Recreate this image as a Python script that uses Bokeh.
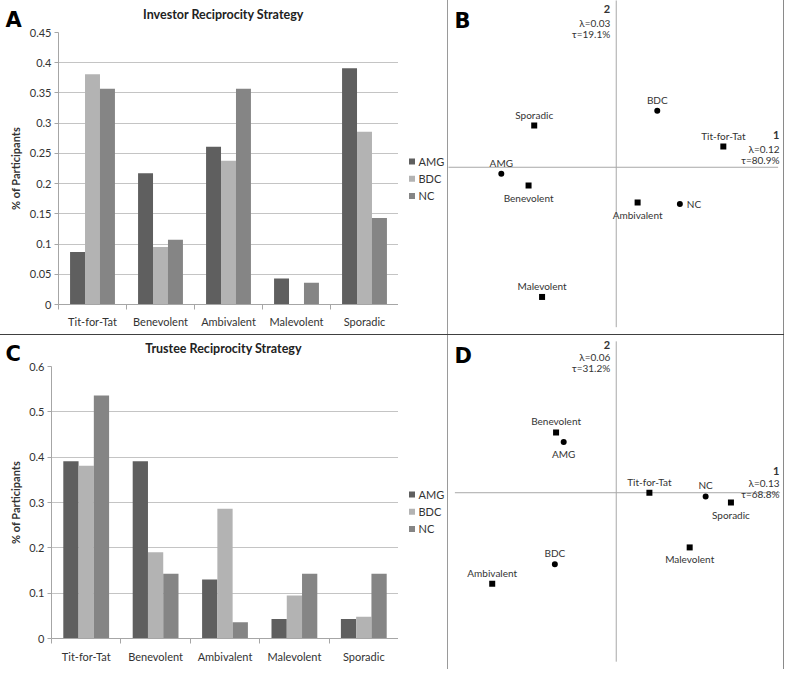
import math
from bokeh.plotting import figure
from bokeh.layouts import column, row
from bokeh.models import Range1d, FixedTicker, Div
from bokeh.core.properties import value
from bokeh.embed import file_html
from bokeh.resources import INLINE

# ---------------- data ----------------
categories = ["Tit-for-Tat", "Benevolent", "Ambivalent", "Malevolent", "Sporadic"]
groups = ["AMG", "BDC", "NC"]
group_colors = ["#5f5f5f", "#b3b3b3", "#858585"]

investor_amg = [0.087, 0.217, 0.261, 0.043, 0.391]
investor_bdc = [0.381, 0.095, 0.238, 0.0, 0.286]
investor_nc = [0.357, 0.107, 0.357, 0.036, 0.143]
investor_ticks = [0, 0.05, 0.1, 0.15, 0.2, 0.25, 0.3, 0.35, 0.4, 0.45]
investor_tick_labels = ["0", "0.05", "0.1", "0.15", "0.2", "0.25", "0.3", "0.35", "0.4", "0.45"]

trustee_amg = [0.391, 0.391, 0.130, 0.043, 0.043]
trustee_bdc = [0.381, 0.190, 0.286, 0.095, 0.048]
trustee_nc = [0.536, 0.143, 0.036, 0.143, 0.143]
trustee_ticks = [0, 0.1, 0.2, 0.3, 0.4, 0.5, 0.6]
trustee_tick_labels = ["0", "0.1", "0.2", "0.3", "0.4", "0.5", "0.6"]

y_label = "% of Participants"

# correspondence analysis maps (dimension 1, dimension 2)
inv_strat_dim1 = [0.436, -0.357, 0.087, -0.302, -0.334]
inv_strat_dim2 = [0.085, -0.075, -0.145, -0.532, 0.171]
inv_group_dim1 = [-0.468, 0.167, 0.259]
inv_group_dim2 = [-0.027, 0.232, -0.151]
inv_dim1_text = ["1", "\u03bb=0.12", "\u03c4=80.9%"]
inv_dim2_text = ["2", "\u03bb=0.03", "\u03c4=19.1%"]

tru_strat_dim1 = [0.135, -0.245, -0.505, 0.299, 0.467]
tru_strat_dim2 = [0.0, 0.247, -0.373, -0.224, -0.040]
tru_group_dim1 = [-0.214, -0.250, 0.364]
tru_group_dim2 = [0.208, -0.293, -0.015]
tru_dim1_text = ["1", "\u03bb=0.13", "\u03c4=68.8%"]
tru_dim2_text = ["2", "\u03bb=0.06", "\u03c4=31.2%"]

# label placement (style)
inv_strat_pos = ["above", "below", "below", "above", "above"]
inv_group_pos = ["above", "above", "right"]
tru_strat_pos = ["above", "above", "above", "below", "below"]
tru_group_pos = ["below", "above", "above"]

FONT = "Lato"
TXT = "#333333"
LW, RW, TH, BH = 447, 335, 334, 334
SW = 26      # left strip (panel letter + y-axis title)
HH = 24      # header strip (chart title) above bar charts
BARW = 372   # bar-chart figure width; the remainder holds the legend
LEGW = LW - SW - BARW


def blank(w, h, xr, yr):
    f = figure(width=w, height=h, x_range=Range1d(*xr), y_range=Range1d(*yr),
               output_backend="svg", toolbar_location=None, min_border=0,
               x_axis_type=None, y_axis_type=None, title=None, frame_align=False)
    f.grid.visible = False
    f.outline_line_color = None
    return f


def strip(letter, letter_y, label_y):
    s = blank(SW, TH, (0, SW), (TH, 0))
    s.text(x=[5], y=[letter_y], text=[letter], text_align="left", text_baseline="middle",
           text_font=value("DejaVu Sans"), text_font_style="bold", text_font_size="21px",
           text_color="#000000")
    s.text(x=[14.5], y=[label_y], text=[y_label], angle=math.pi / 2, text_align="center",
           text_baseline="middle", text_font=value(FONT), text_font_style="bold",
           text_font_size="11px", text_color=TXT)
    return s


def header(title, title_x, title_y):
    h = blank(LW - SW, HH, (0, LW - SW), (HH, 0))
    h.text(x=[title_x], y=[title_y], text=[title], text_align="center", text_baseline="middle",
           text_font=value(FONT), text_font_style="bold", text_font_size="12.5px",
           text_color="#222222")
    return h


def bar_panel(series, ymax, ticks, tick_labels, fl, ft, fb, xstand):
    p = figure(width=BARW, height=TH - HH, x_range=Range1d(0, len(categories)), y_range=Range1d(0, ymax),
               output_backend="svg", toolbar_location=None, title=None, frame_align=False,
               min_border_left=fl, min_border_right=0, min_border_top=ft, min_border_bottom=fb)
    p.outline_line_color = None
    p.xgrid.visible = False
    p.ygrid.ticker = FixedTicker(ticks=ticks)
    p.ygrid.grid_line_color = "#c4c4c4"
    bw = 0.22
    for j, (vals, col) in enumerate(zip(series, group_colors)):
        xs = [i + 0.5 + (j - 1) * bw for i in range(len(categories))]
        p.vbar(x=xs, top=vals, width=bw, fill_color=col, line_color=None)
    ya = p.yaxis[0]
    ya.ticker = FixedTicker(ticks=ticks, minor_ticks=[])
    ya.major_label_overrides = {t: l for t, l in zip(ticks, tick_labels)}
    ya.axis_line_color = "#a6a6a6"
    ya.major_tick_line_color = "#a6a6a6"
    ya.major_tick_out = 4
    ya.major_tick_in = 0
    ya.major_label_standoff = 3
    ya.major_label_text_font = FONT
    ya.major_label_text_font_size = "11px"
    ya.major_label_text_color = TXT
    xa = p.xaxis[0]
    xa.ticker = FixedTicker(ticks=[i + 0.5 for i in range(len(categories))],
                            minor_ticks=list(range(len(categories) + 1)))
    xa.major_label_overrides = {i + 0.5: c for i, c in enumerate(categories)}
    xa.axis_line_color = "#a6a6a6"
    xa.major_tick_line_color = None
    xa.major_tick_out = 0
    xa.major_tick_in = 0
    xa.minor_tick_line_color = "#a6a6a6"
    xa.minor_tick_out = 5
    xa.minor_tick_in = 0
    xa.major_label_standoff = xstand
    xa.major_label_text_font = FONT
    xa.major_label_text_font_size = "11px"
    xa.major_label_text_color = TXT
    return p


def legend_panel(first_row_y, pitch):
    # small legend figure: square swatches + group names, one row per group
    q = blank(LEGW, TH - HH, (0, LEGW), (TH - HH, 0))
    ys = [first_row_y + k * pitch for k in range(len(groups))]
    q.scatter(x=[13.5] * len(groups), y=ys, marker="square", size=6,
              fill_color=group_colors, line_color=None)
    q.text(x=[20] * len(groups), y=ys, text=groups, text_align="left", text_baseline="middle",
           text_font=value(FONT), text_font_size="11px", text_color=TXT)
    return q


def ca_panel(letter, H, xr, yr, hline, vline, s_x, s_y, s_pos, g_x, g_y, g_pos, d1_text, d1_offs, d2_text, d2_offs):
    p = blank(RW, H, xr, yr)
    p.segment(x0=[hline[0], 0], y0=[0, vline[0]], x1=[hline[1], 0], y1=[0, vline[1]],
              line_color="#a8a8a8", line_width=1)
    p.scatter(x=s_x, y=s_y, marker="square", size=6, fill_color="black", line_color=None)
    p.scatter(x=g_x, y=g_y, marker="circle", size=6, fill_color="black", line_color=None)

    def labels(xs, ys, names, pos):
        for x, y, n, ps in zip(xs, ys, names, pos):
            if ps == "above":
                kw = dict(x_offset=0, y_offset=-11, text_align="center")
            elif ps == "below":
                kw = dict(x_offset=0, y_offset=12, text_align="center")
            else:
                kw = dict(x_offset=7, y_offset=0, text_align="left")
            p.text(x=[x], y=[y], text=[n], text_baseline="middle", text_font=value(FONT),
                   text_font_size="10px", text_color=TXT, **kw)

    labels(s_x, s_y, categories, s_pos)
    labels(g_x, g_y, groups, g_pos)
    for k, (t, off) in enumerate(zip(d2_text, d2_offs)):
        p.text(x=[0], y=[yr[1]], text=[t], x_offset=-6, y_offset=off, text_align="right",
               text_baseline="middle", text_font=value(FONT),
               text_font_style="bold" if k == 0 else "normal",
               text_font_size="11px" if k == 0 else "10px", text_color=TXT)
    for k, (t, off) in enumerate(zip(d1_text, d1_offs)):
        p.text(x=[xr[1]], y=[0], text=[t], x_offset=-4, y_offset=off, text_align="right",
               text_baseline="middle", text_font=value(FONT),
               text_font_style="bold" if k == 0 else "normal",
               text_font_size="11px" if k == 0 else "10px", text_color=TXT)
    p.text(x=[xr[0]], y=[yr[1]], text=[letter], x_offset=6, y_offset=20.5, text_align="left",
           text_baseline="middle", text_font=value("DejaVu Sans"), text_font_style="bold",
           text_font_size="21px", text_color="#000000")
    return p


def bar_block(letter, title, title_y, letter_y, series, ymax, ticks, tick_labels, fl, ft, fb, xstand, leg_y0):
    frame_mid = HH + ft + (TH - HH - ft - fb) / 2
    s = strip(letter, letter_y, frame_mid)
    h = header(title, 223 - SW, title_y)
    p = bar_panel(series, ymax, ticks, tick_labels, fl, ft, fb, xstand)
    q = legend_panel(leg_y0, 17.2)
    return row(s, column(h, row(p, q)))


blockA = bar_block("A", "Investor Reciprocity Strategy", 13.7, 19.5,
                   [investor_amg, investor_bdc, investor_nc], 0.45, investor_ticks, investor_tick_labels,
                   56 - SW, 8, 30, 5, 137)
blockC = bar_block("C", "Trustee Reciprocity Strategy", 12.7, 18.5,
                   [trustee_amg, trustee_bdc, trustee_nc], 0.6, trustee_ticks, trustee_tick_labels,
                   51 - SW, 7, 31, 6, 135)

pB = ca_panel("B", TH, (-0.683, 0.681), (-0.686, 0.684), (-0.70, 0.659), (0.70, -0.656),
              inv_strat_dim1, inv_strat_dim2, inv_strat_pos, inv_group_dim1, inv_group_dim2, inv_group_pos,
              inv_dim1_text, [-32, -18, -7], inv_dim2_text, [8, 22, 33])
pD = ca_panel("D", BH, (-0.683, 0.681), (-0.724, 0.644), (-0.657, 0.667), (0.62, -0.692),
              tru_strat_dim1, tru_strat_dim2, tru_strat_pos, tru_group_dim1, tru_group_dim2, tru_group_pos,
              tru_dim1_text, [-22, -9.5, 1.5], tru_dim2_text, [9.5, 21.5, 32.5])


def sep(w, h, color):
    return Div(text="", width=w, height=h, margin=0, styles={"background-color": color})


layout = column(
    row(blockA, sep(1, TH, "#9a9a9a"), pB, sep(1, TH, "#8a8a8a")),
    sep(LW + RW + 2, 1, "#404040"),
    row(blockC, sep(1, BH, "#9a9a9a"), pD, sep(1, BH, "#8a8a8a")),
)

open("out.html", "w").write(file_html(layout, INLINE))
